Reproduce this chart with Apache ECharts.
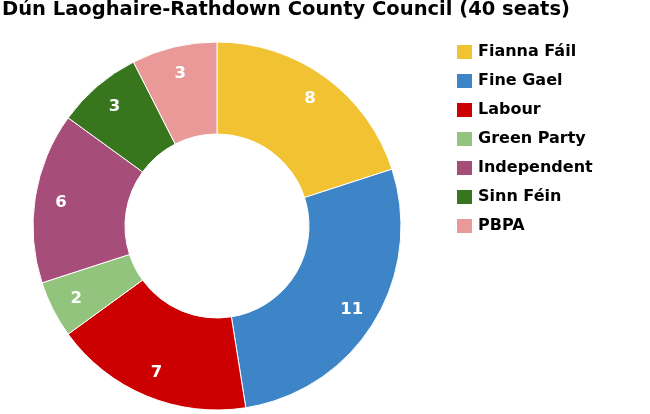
<!DOCTYPE html>
<html><head><meta charset="utf-8">
<script src="https://cdn.jsdelivr.net/npm/echarts@6/dist/echarts.min.js"></script>
<style>html,body{margin:0;padding:0;background:#fff}#c{width:650px;height:414px}</style>
</head><body><div id="c"></div>
<script>
const titleText = 'Dún Laoghaire-Rathdown County Council (40 seats)';
const parties = ['Fianna Fáil','Fine Gael','Labour','Green Party','Independent','Sinn Féin','PBPA'];
const seats = [8, 11, 7, 2, 6, 3, 3];
const colors = ['#f1c232','#3d85c6','#cc0000','#93c47d','#a64d79','#38761d','#ea9999'];

const font = 'DejaVu Sans, sans-serif';
const data = parties.map((p,i)=>({name:p, value:seats[i], itemStyle:{color:colors[i]}}));
const chart = echarts.init(document.getElementById('c'), null, {renderer:'canvas'});
chart.setOption({
  animation:false,
  title:{text:titleText, left:2, top:0, padding:0, textStyle:{fontFamily:font, fontWeight:'bold', fontSize:19.5, color:'#000'}},
  legend:{orient:'vertical', left:455, top:43, padding:0, itemWidth:17, itemHeight:16, itemGap:11, icon:'rect',
    data:parties,
    textStyle:{fontFamily:font, fontWeight:'bold', fontSize:16, color:'#000', lineHeight:16, padding:[0,0,0,0]}},
  series:[
    {type:'pie', center:[217,226], radius:[92,184], startAngle:90, clockwise:true,
     data:data, silent:true, label:{show:false}, labelLine:{show:false},
     itemStyle:{borderColor:'#fff', borderWidth:1}},
    {type:'pie', center:[217,227], radius:[126,184], startAngle:90, clockwise:true, silent:true,
     data:parties.map((p,i)=>({name:p, value:seats[i], itemStyle:{color:'rgba(0,0,0,0)'}})),
     label:{show:true, position:'inside', formatter:'{c}', color:'#fff', fontFamily:font, fontWeight:'bold', fontSize:16.5},
     labelLine:{show:false}}
  ]
});
</script></body></html>
